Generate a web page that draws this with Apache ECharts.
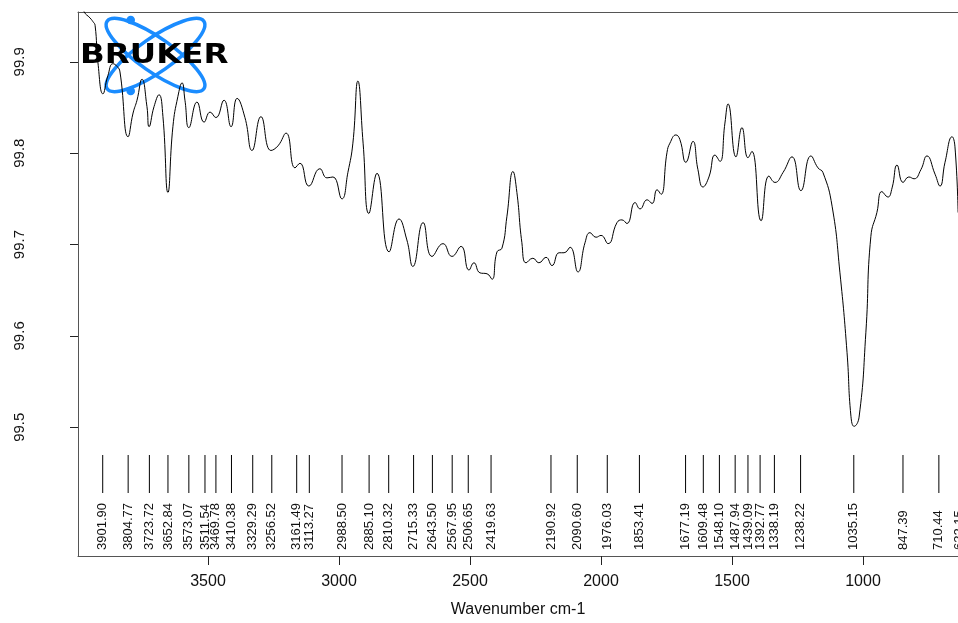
<!DOCTYPE html>
<html>
<head>
<meta charset="utf-8">
<script src="https://cdn.jsdelivr.net/npm/echarts@6/dist/echarts.min.js"></script>
<style>
html,body{margin:0;padding:0;background:#fff;}
#chart{width:958px;height:623px;}
</style>
</head>
<body>
<div id="chart"></div>
<script>
// Spectrum: wavenumber (cm-1) and transmittance
var wavenumbers = [3996, 3973, 3950, 3939, 3931, 3920, 3901, 3882, 3863, 3847,
  3836, 3805, 3786, 3771, 3752, 3733, 3725, 3706, 3687, 3672,
  3653, 3634, 3615, 3599, 3588, 3573, 3542, 3515, 3492, 3470,
  3439, 3412, 3389, 3359, 3332, 3298, 3260, 3233, 3202, 3168,
  3149, 3115, 3073, 3046, 3023, 2989, 2966, 2947, 2928, 2908,
  2886, 2855, 2809, 2771, 2741, 2718, 2679, 2645, 2603, 2569,
  2534, 2504, 2485, 2462, 2435, 2416, 2397, 2378, 2359, 2336,
  2321, 2302, 2286, 2260, 2237, 2210, 2187, 2160, 2141, 2118,
  2088, 2061, 2042, 2019, 2000, 1973, 1939, 1920, 1901, 1870,
  1851, 1824, 1805, 1786, 1771, 1748, 1737, 1714, 1699, 1676,
  1649, 1630, 1611, 1588, 1565, 1546, 1527, 1515, 1485, 1462,
  1439, 1424, 1389, 1359, 1336, 1305, 1271, 1237, 1199, 1172,
  1153, 1118, 1088, 1061, 1046, 1034, 1015, 989, 970, 947,
  928, 905, 889, 870, 847, 825, 805, 779, 756, 725,
  706, 687, 660, 649, 637];
var transmittance = [99.975, 99.955, 99.948, 99.944, 99.940, 99.899, 99.865, 99.885, 99.898, 99.895,
  99.889, 99.818, 99.844, 99.858, 99.881, 99.851, 99.829, 99.851, 99.864, 99.840,
  99.757, 99.829, 99.862, 99.877, 99.858, 99.828, 99.856, 99.834, 99.845, 99.839,
  99.858, 99.829, 99.860, 99.839, 99.803, 99.840, 99.803, 99.808, 99.822, 99.784,
  99.789, 99.764, 99.783, 99.773, 99.774, 99.750, 99.779, 99.811, 99.879, 99.811,
  99.734, 99.778, 99.692, 99.728, 99.705, 99.676, 99.724, 99.687, 99.701, 99.687,
  99.698, 99.672, 99.680, 99.669, 99.668, 99.662, 99.692, 99.696, 99.731, 99.780,
  99.757, 99.702, 99.680, 99.685, 99.680, 99.686, 99.677, 99.691, 99.691, 99.697,
  99.670, 99.702, 99.713, 99.708, 99.710, 99.701, 99.724, 99.727, 99.723, 99.746,
  99.739, 99.749, 99.745, 99.760, 99.755, 99.801, 99.811, 99.820, 99.815, 99.790,
  99.813, 99.782, 99.763, 99.774, 99.798, 99.791, 99.833, 99.854, 99.796, 99.828,
  99.795, 99.802, 99.726, 99.775, 99.768, 99.779, 99.796, 99.759, 99.797, 99.784,
  99.779, 99.742, 99.669, 99.582, 99.512, 99.501, 99.511, 99.604, 99.709, 99.735,
  99.758, 99.752, 99.762, 99.787, 99.768, 99.774, 99.772, 99.782, 99.797, 99.777,
  99.764, 99.790, 99.818, 99.807, 99.735];

// Peak picks
var peakWavenumbers = [3901.90, 3804.77, 3723.72, 3652.84, 3573.07, 3511.54, 3469.78, 3410.38,
  3329.29, 3256.52, 3161.49, 3113.27, 2988.50, 2885.10, 2810.32, 2715.33, 2643.50, 2567.95,
  2506.65, 2419.63, 2190.92, 2090.60, 1976.03, 1853.41, 1677.19, 1609.48, 1548.10, 1487.94,
  1439.09, 1392.77, 1338.19, 1238.22, 1035.15, 847.39, 710.44, 632.15];

// Axis ticks
var xTicks = [3500, 3000, 2500, 2000, 1500, 1000];
var yTicks = [99.5, 99.6, 99.7, 99.8, 99.9];
var xTitle = 'Wavenumber cm-1';

var FONT = "'Liberation Sans', Arial, Helvetica, sans-serif";
var chart = echarts.init(document.getElementById('chart'), null, {renderer: 'canvas'});

var lineData = wavenumbers.map(function (w, i) { return [w, transmittance[i]]; });
var peakData = peakWavenumbers.map(function (w) { return [w]; });

var BLUE = '#1a8cff';

var option = {
  animation: false,
  backgroundColor: '#ffffff',
  grid: {left: 78, right: 0, top: 12, bottom: 66, containLabel: false},
  xAxis: [{
    type: 'value', inverse: true, min: 637.4, max: 3996.2,
    name: xTitle, nameLocation: 'middle', nameGap: 46,
    nameTextStyle: {fontFamily: FONT, fontSize: 16, color: '#111'},
    axisLine: {show: true, lineStyle: {color: '#555', width: 1}},
    axisTick: {show: true, length: 9, lineStyle: {color: '#222'}, customValues: xTicks},
    axisLabel: {show: true, margin: 18, fontFamily: FONT, fontSize: 16, color: '#111', customValues: xTicks,
      formatter: function (v) { return String(Math.round(v)); }},
    splitLine: {show: false}
  }, {
    type: 'value', inverse: true, min: 637.4, max: 3996.2, position: 'top',
    axisLine: {show: true, lineStyle: {color: '#555', width: 1}},
    axisTick: {show: false}, axisLabel: {show: false}, splitLine: {show: false}
  }],
  yAxis: {
    type: 'value', min: 99.359, max: 99.9546,
    axisLine: {show: true, lineStyle: {color: '#555', width: 1}},
    axisTick: {show: true, length: 8, lineStyle: {color: '#222'}, customValues: yTicks},
    axisLabel: {show: true, rotate: 90, margin: 51, fontFamily: FONT, fontSize: 15, color: '#111',
      customValues: yTicks, formatter: function (v) { return v.toFixed(1); }},
    splitLine: {show: false}
  },
  series: [{
    type: 'line',
    data: lineData,
    showSymbol: false,
    smooth: 0.5,
    clip: true,
    lineStyle: {color: '#000', width: 1},
    z: 2
  }, {
    type: 'custom',
    data: peakData,
    clip: false,
    silent: true,
    z: 3,
    renderItem: function (params, api) {
      var w = api.value(0);
      var x = api.coord([w, 99.6])[0];
      var cs = params.coordSys;
      var bottom = cs.y + cs.height;
      return {
        type: 'group',
        children: [{
          type: 'line',
          shape: {x1: x, y1: bottom - 101, x2: x, y2: bottom - 63},
          style: {stroke: '#000', lineWidth: 1}
        }, {
          type: 'text',
          x: x, y: bottom - 6,
          rotation: Math.PI / 2,
          style: {
            text: w.toFixed(2),
            align: 'left', verticalAlign: 'middle',
            textAlign: 'left', textVerticalAlign: 'middle',
            font: '13px ' + FONT,
            fill: '#111'
          }
        }]
      };
    }
  }],
  graphic: [{
    type: 'group', z: 100,
    children: [{
      type: 'ellipse',
      shape: {cx: 0, cy: 0, rx: 59, ry: 17},
      x: 155.5, y: 55, rotation: -0.61,
      style: {fill: 'none', stroke: BLUE, lineWidth: 3.5}
    }, {
      type: 'ellipse',
      shape: {cx: 0, cy: 0, rx: 59, ry: 17},
      x: 155.5, y: 55, rotation: 0.61,
      style: {fill: 'none', stroke: BLUE, lineWidth: 3.5}
    }, {
      type: 'circle', shape: {cx: 130.7, cy: 20, r: 4.3}, style: {fill: BLUE}
    }, {
      type: 'circle', shape: {cx: 130.7, cy: 91, r: 4.3}, style: {fill: BLUE}
    }, {
      type: 'text',
      x: 80, y: 56.5, scaleX: 1.3, scaleY: 1.05,
      style: {
        text: 'BRUKER',
        font: "bold 25px 'DejaVu Sans', sans-serif",
        fill: '#000',
        align: 'left', verticalAlign: 'middle',
        textAlign: 'left', textVerticalAlign: 'middle'
      }
    }]
  }]
};
chart.setOption(option);
</script>
</body>
</html>
